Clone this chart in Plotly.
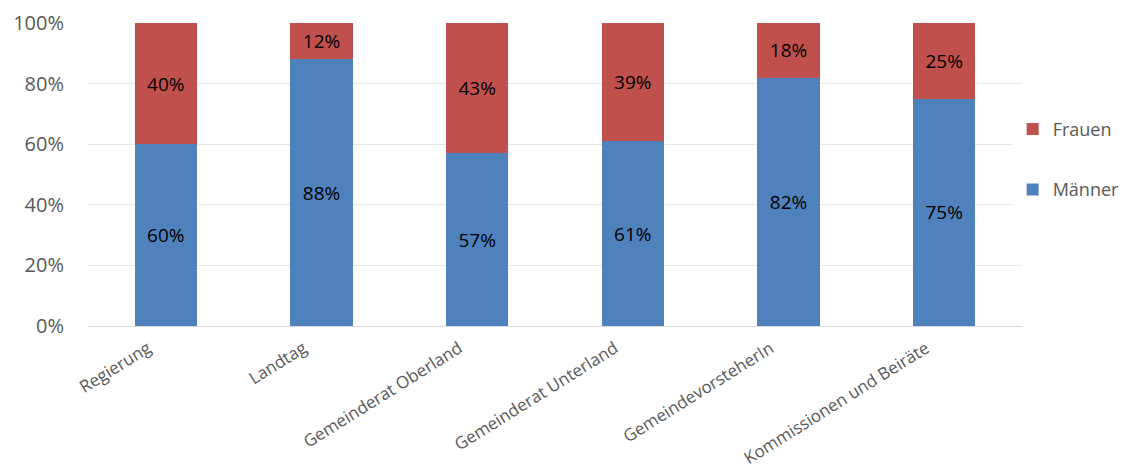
import plotly.graph_objects as go

categories = ["Regierung", "Landtag", "Gemeinderat Oberland", "Gemeinderat Unterland",
              "GemeindevorsteherIn", "Kommissionen und Beiräte"]
maenner = [60, 88, 57, 61, 82, 75]
frauen = [40, 12, 43, 39, 18, 25]
y_ticks = [0, 20, 40, 60, 80, 100]
y_tick_labels = ["0%", "20%", "40%", "60%", "80%", "100%"]

BLUE = "#4F81BD"
RED = "#C0504D"
FONT = "Open Sans, Liberation Sans, sans-serif"

fig = go.Figure()
fig.add_trace(go.Bar(
    x=categories, y=maenner, name="Männer", marker_color=BLUE,
    marker_line=dict(width=0), legendgroup="m", legendrank=2,
    text=[f"{v}%" for v in maenner], textposition="inside", insidetextanchor="middle",
    textfont=dict(family=FONT, size=19, color="black"),
))
fig.add_trace(go.Bar(
    x=categories, y=frauen, name="Frauen", marker_color=RED,
    marker_line=dict(width=0), legendgroup="f", legendrank=1,
    text=[f"{v}%" for v in frauen], textposition="inside", insidetextanchor="middle",
    textfont=dict(family=FONT, size=19, color="black"),
))

# page body keeps its default 8px margin, so the figure is 8px smaller
fig.update_layout(
    width=1119, height=463,
    barmode="stack", bargap=0.6,
    plot_bgcolor="white", paper_bgcolor="white",
    margin=dict(l=80, r=105, t=15, b=145, autoexpand=False),
    font=dict(family=FONT, color="#595959"),
    legend=dict(x=0.99, xanchor="left", y=0.55, yanchor="middle",
                traceorder="grouped", tracegroupgap=34, itemwidth=30,
                font=dict(size=18, color="#595959")),
    xaxis=dict(tickangle=-32, tickfont=dict(size=17, color="#595959"),
               ticklabelshift=-18, ticklabelstandoff=5,
               showline=True, linecolor="#D9D9D9", linewidth=1, automargin=False),
    yaxis=dict(range=[0, 100], tickvals=y_ticks, ticktext=y_tick_labels,
               tickfont=dict(size=20, color="#595959"), ticklabelstandoff=23,
               gridcolor="#E6E6E6", gridwidth=1, zeroline=False, ticks="",
               automargin=False),
    uniformtext=dict(minsize=10, mode="show"),
)

fig.write_html("out.html")
